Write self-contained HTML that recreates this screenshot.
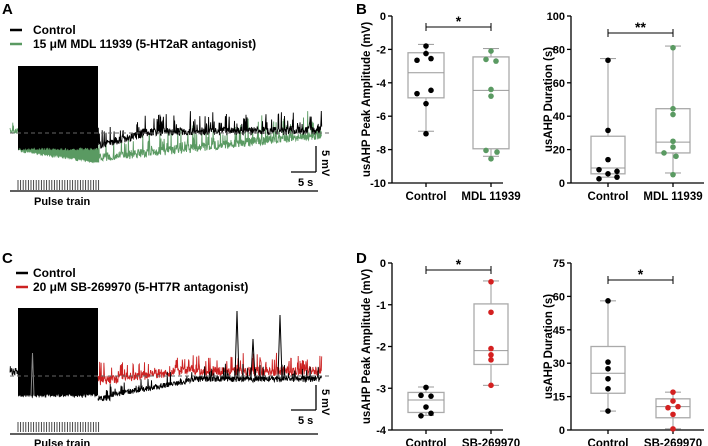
<!DOCTYPE html>
<html><head><meta charset="utf-8"><style>
html,body{margin:0;padding:0;background:#fff;}
svg{display:block;font-family:"Liberation Sans",Arial,sans-serif;}
.b{font-weight:bold;}
</style></head><body>
<svg id="s" width="708" height="446" viewBox="0 0 708 446" xmlns="http://www.w3.org/2000/svg">
<g id="traces"></g>
<text x="2" y="14" font-size="15" class="b">A</text>
<line x1="10" y1="30" x2="22" y2="30" stroke="#000" stroke-width="2.5"/>
<text x="33" y="34" font-size="12" class="b">Control</text>
<line x1="10" y1="44" x2="22" y2="44" stroke="#5a9a62" stroke-width="2.5"/>
<text x="33" y="48" font-size="12" class="b">15 μM MDL 11939 (5-HT2aR antagonist)</text>
<line x1="291" y1="172" x2="316" y2="172" stroke="#000" stroke-width="1.3"/>
<line x1="316" y1="146" x2="316" y2="172" stroke="#000" stroke-width="1.3"/>
<text x="0" y="0" font-size="11" class="b" transform="translate(322,150) rotate(90)">5 mV</text>
<text x="298" y="186" font-size="11" class="b">5 s</text>
<line x1="10" y1="191" x2="318" y2="191" stroke="#000" stroke-width="1.3"/>
<text x="34" y="205" font-size="11" class="b">Pulse train</text>
<text x="2" y="263" font-size="15" class="b">C</text>
<line x1="16" y1="273" x2="28" y2="273" stroke="#000" stroke-width="2.5"/>
<text x="33" y="277" font-size="12" class="b">Control</text>
<line x1="16" y1="287" x2="28" y2="287" stroke="#cc2222" stroke-width="2.5"/>
<text x="33" y="291" font-size="12" class="b">20 μM SB-269970 (5-HT7R antagonist)</text>
<line x1="291" y1="410" x2="316" y2="410" stroke="#000" stroke-width="1.3"/>
<line x1="316" y1="385" x2="316" y2="410" stroke="#000" stroke-width="1.3"/>
<text x="0" y="0" font-size="11" class="b" transform="translate(322,389) rotate(90)">5 mV</text>
<text x="298" y="424" font-size="11" class="b">5 s</text>
<line x1="10" y1="434" x2="318" y2="434" stroke="#000" stroke-width="1.3"/>
<text x="34" y="447" font-size="11" class="b">Pulse train</text>
<text x="356" y="14" font-size="15" class="b">B</text>
<text x="356" y="263" font-size="15" class="b">D</text>
<g id="plots"></g>
</svg>
<script>
var NS="http://www.w3.org/2000/svg";
function el(p,t,a,txt){var e=document.createElementNS(NS,t);for(var k in a)e.setAttribute(k,a[k]);if(txt!==undefined)e.textContent=txt;p.appendChild(e);return e;}
var seed=7;function rnd(){seed=(seed*16807)%2147483647;return (seed-1)/2147483646;}
var T=document.getElementById('traces');
function trace(x0,x1,base,noise,spikeP,spikeH,col,w){var d="";for(var x=x0;x<=x1;x+=0.35){var y=base(x)+(rnd()-0.5)*noise;if(rnd()<spikeP)y-=rnd()*spikeH;d+=(d?"L":"M")+x.toFixed(1)+","+y.toFixed(1);}el(T,'path',{d:d,fill:'none',stroke:col,'stroke-width':w||0.8});}
function block(x0,x1,top,bot,col){var d="M"+x0+","+top+" L"+x1+","+top;for(var x=x1;x>=x0;x-=0.5){d+=" L"+x+","+(bot(x)+(rnd()-0.5)*3).toFixed(1);}d+="Z";el(T,'path',{d:d,fill:col});}
function pulses(y1,y2){for(var x=18;x<=99;x+=2.6)el(T,'line',{x1:x,y1:y1,x2:x,y2:y2,stroke:'#333','stroke-width':0.9});}
var G='#5a9a62';
trace(10,19,function(){return 131},6,0.15,14,G);
block(18,98,66,function(x){return 151+(x-18)*0.15},G);
block(18,98,66,function(x){return 149},'#000');
trace(98,322,function(x){return 158-(x-98)*0.105},9,0.14,22,G,0.9);
trace(98,322,function(x){return x<150?146-(x-98)*0.27:132-(x-150)*0.01},8,0.16,18,'#000',0.9);
el(T,'line',{x1:10,y1:133,x2:330,y2:133,stroke:'#666','stroke-width':0.9,'stroke-dasharray':'4,3'});
pulses(180,190);
var R='#cc2222';
trace(10,19,function(){return 372},8,0.15,12,'#000');
block(18,98,308,function(x){return 396+(rnd()-0.5)*2},'#000');
el(T,'path',{d:"M31,396 L32.5,353 L34,396",fill:'none',stroke:'#888','stroke-width':1});
trace(98,322,function(x){return 381-Math.min(x-98,80)*0.12},9,0.18,16,R,0.9);
trace(98,322,function(x){return x<110?398:x<200?395-(x-110)*0.18:379},6,0.1,14,'#000',0.9);
el(T,'path',{d:"M235,378 L237,311 L239,378 M251,378 L253,339 L255,378 M278,378 L280,315 L282,378",fill:'none',stroke:'#000','stroke-width':1});
el(T,'line',{x1:10,y1:376,x2:330,y2:376,stroke:'#666','stroke-width':0.9,'stroke-dasharray':'4,3'});
pulses(422,432);

var P=document.getElementById('plots');
function plot(o){
 var ax=o.ax,yt=o.yt,yb=o.yb,sc=function(v){return yb+(v-o.min)/(o.max-o.min)*(yt-yb);};
 el(P,'line',{x1:ax,y1:yt,x2:ax,y2:yb,stroke:'#000','stroke-width':1.3});
 el(P,'line',{x1:ax,y1:yb,x2:o.axEnd,y2:yb,stroke:'#000','stroke-width':1.3});
 o.ticks.forEach(function(t){var y=sc(t);el(P,'line',{x1:ax-4,y1:y,x2:ax,y2:y,stroke:'#000','stroke-width':1.3});el(P,'text',{x:ax-6,y:y+4,'font-size':11,'text-anchor':'end','class':'b'},String(t));});
 el(P,'text',{x:0,y:0,'font-size':11.5,'text-anchor':'middle','class':'b',transform:'translate('+o.lx+','+((yt+yb)/2)+') rotate(-90)'},o.label);
 o.groups.forEach(function(g){
  el(P,'line',{x1:g.x,y1:yb,x2:g.x,y2:yb+4,stroke:'#000','stroke-width':1.3});
  el(P,'text',{x:g.x,y:yb+17,'font-size':11.5,'text-anchor':'middle','class':'b'},g.name);
  el(P,'line',{x1:g.x,y1:sc(g.w[0]),x2:g.x,y2:sc(g.w[1]),stroke:'#999','stroke-width':1});
  [g.w[0],g.w[1]].forEach(function(v){el(P,'line',{x1:g.x-8,y1:sc(v),x2:g.x+8,y2:sc(v),stroke:'#999','stroke-width':1});});
  var y1=sc(g.b[1]),y0=sc(g.b[0]);
  el(P,'rect',{x:g.x-g.bw,y:Math.min(y0,y1),width:2*g.bw,height:Math.abs(y1-y0),fill:'#fff',stroke:'#aaa','stroke-width':1.3});
  el(P,'line',{x1:g.x-g.bw,y1:sc(g.m),x2:g.x+g.bw,y2:sc(g.m),stroke:'#999','stroke-width':1});
  g.p.forEach(function(p){el(P,'circle',{cx:g.x+p[1],cy:sc(p[0]),r:2.8,fill:g.c});});
 });
 var sy=o.sig;el(P,'line',{x1:o.groups[0].x,y1:sy,x2:o.groups[1].x,y2:sy,stroke:'#000','stroke-width':1});
 o.groups.forEach(function(g){el(P,'line',{x1:g.x,y1:sy-4,x2:g.x,y2:sy+4,stroke:'#000','stroke-width':1});});
 el(P,'text',{x:(o.groups[0].x+o.groups[1].x)/2,y:sy-1,'font-size':14,'text-anchor':'middle','class':'b'},o.star);
}
var K='#000',GG='#5a9a62',RR='#d42020';
plot({ax:392,axEnd:503,yt:16,yb:183,min:-10,max:0,ticks:[0,-2,-4,-6,-8,-10],lx:370,label:'usAHP Peak Amplitude (mV)',sig:27,star:'*',
 groups:[{x:426,name:'Control',bw:18,w:[-1.7,-6.9],b:[-2.2,-4.9],m:-3.4,c:K,p:[[-1.8,0],[-2.25,0],[-2.65,-9],[-2.55,5],[-4.65,-9],[-4.45,5],[-5.25,0],[-7.05,0]]},
  {x:491,name:'MDL 11939',bw:18,w:[-1.95,-8.4],b:[-2.45,-7.95],m:-4.45,c:GG,p:[[-2.1,0],[-2.6,-5],[-2.7,5],[-4.4,0],[-4.8,0],[-8.05,-5],[-8.15,6],[-8.55,0]]}]});
plot({ax:571,axEnd:704,yt:16,yb:183,min:0,max:100,ticks:[0,20,40,60,80,100],lx:552,label:'usAHP Duration (s)',sig:33,star:'**',
 groups:[{x:608,name:'Control',bw:17,w:[3.5,74.5],b:[5.5,28],m:9,c:K,p:[[73.5,0],[31.5,0],[14,0],[8,-9],[5.5,0],[7,9],[2.5,-9],[3.5,9]]},
  {x:673,name:'MDL 11939',bw:17,w:[6,82],b:[18,44.5],m:24.5,c:GG,p:[[81,0],[44.5,0],[41,0],[25,0],[21.5,0],[18,-9],[16,3],[5,0]]}]});
plot({ax:392,axEnd:503,yt:263,yb:430,min:-4,max:0,ticks:[0,-1,-2,-3,-4],lx:370,label:'usAHP Peak Amplitude (mV)',sig:270,star:'*',
 groups:[{x:426,name:'Control',bw:18,w:[-2.97,-3.65],b:[-3.1,-3.58],m:-3.28,c:K,p:[[-2.98,0],[-3.17,-5],[-3.19,5],[-3.45,0],[-3.6,5],[-3.66,-5]]},
  {x:491,name:'SB-269970',bw:17,w:[-0.43,-2.93],b:[-0.98,-2.43],m:-2.1,c:RR,p:[[-0.45,0],[-1.18,0],[-2.05,0],[-2.2,0],[-2.32,0],[-2.93,0]]}]});
plot({ax:571,axEnd:704,yt:263,yb:430,min:0,max:75,ticks:[0,15,30,45,60,75],lx:552,label:'usAHP Duration (s)',sig:280,star:'*',
 groups:[{x:608,name:'Control',bw:17,w:[8.5,58],b:[16.5,37.5],m:25.5,c:K,p:[[58,0],[30.5,0],[27.5,0],[23,0],[18.5,0],[8.5,0]]},
  {x:673,name:'SB-269970',bw:17,w:[0.5,17],b:[5.5,14],m:10.5,c:RR,p:[[17,0],[13,0],[10,-5],[10.5,5],[7,0],[0.5,0]]}]});
</script>
</body></html>
